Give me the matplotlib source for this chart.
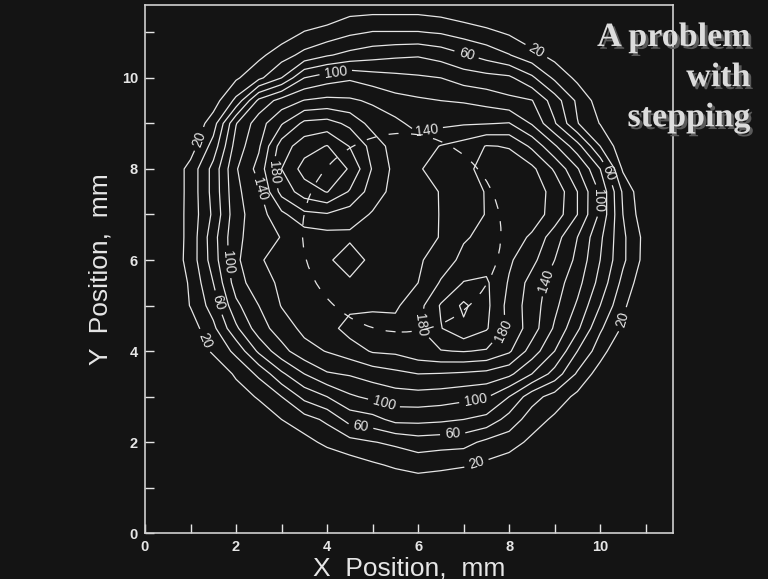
import numpy as np
import matplotlib
matplotlib.use("Agg")
import matplotlib.pyplot as plt
from matplotlib.patches import Circle
import matplotlib.patheffects as pe

plt.rcParams['font.family'] = ['Liberation Sans', 'DejaVu Sans']

# ---- data: dose map sampled every 0.5 mm (rows listed from y = 11.5 down to y = 0) ----
x_mm = np.arange(0, 12, 0.5)
y_mm = np.arange(0, 12, 0.5)
dose_rows_top_down = [
    [0,0,0,0,0,0,0,0,5,13,14,14,14,11,6,0,0,0,0,0,0,0,0,0],            # 11.5
    [0,0,0,0,0,0,8,21,27,36,41,41,41,38,31,25,17,4,0,0,0,0,0,0],        # 11.0
    [0,0,0,0,0,15,31,46,58,66,72,76,78,72,62,52,41,27,13,0,0,0,0,0],    # 10.5
    [0,0,0,0,17,35,60,100,111,117,110,106,103,100,91,87,84,64,36,15,0,0,0,0],   # 10.0
    [0,0,0,10,45,105,128,141,145,143,137,127,123,120,118,113,105,101,70,36,10,0,0,0],  # 9.5
    [0,0,3,30,99,131,158,185,188,175,152,145,133,135,138,139,141,118,82,41,19,0,0,0],  # 9.0
    [0,0,10,48,109,137,190,211,221,199,173,150,150,161,168,181,179,156,123,88,40,6,0,0],  # 8.5
    [0,2,27,67,118,147,200,228,235,218,178,154,158,168,176,185,188,185,157,122,80,17,0,0],  # 8.0
    [0,2,27,67,115,136,187,210,221,198,170,153,152,161,172,181,190,188,175,140,97,37,1,0],  # 7.5
    [0,3,27,64,113,131,155,175,178,170,158,150,150,161,170,181,190,190,172,140,96,40,5,0],  # 7.0
    [0,3,27,72,116,129,141,148,152,155,150,150,152,161,178,185,190,177,149,120,84,44,13,0],  # 6.5
    [0,3,28,70,116,138,147,150,155,175,152,150,157,170,185,192,183,166,140,115,80,44,12,0],  # 6.0
    [0,0,23,60,110,133,143,148,150,155,150,153,160,182,201,203,178,152,130,107,73,34,5,0],  # 5.5
    [0,0,21,49,95,120,141,146,150,155,157,157,172,202,224,205,173,150,125,97,60,24,0,0],  # 5.0
    [0,0,10,35,76,111,130,145,152,168,168,166,178,199,216,202,175,150,117,84,43,17,0,0],  # 4.5
    [0,0,0,24,45,84,113,133,141,150,162,164,173,179,181,178,163,131,100,60,29,0,0,0],  # 4.0
    [0,0,0,0,24,44,76,100,118,122,129,135,140,139,137,134,125,100,72,37,10,0,0,0],  # 3.5
    [0,0,0,0,7,23,40,66,80,97,105,111,112,110,106,102,80,48,32,15,0,0,0,0],  # 3.0
    [0,0,0,0,0,3,20,32,44,68,73,86,86,84,80,74,52,30,16,0,0,0,0,0],  # 2.5
    [0,0,0,0,0,0,0,13,25,33,39,44,50,48,47,35,29,15,0,0,0,0,0,0],  # 2.0
    [0,0,0,0,0,0,0,0,3,10,17,23,28,25,22,16,9,0,0,0,0,0,0,0],  # 1.5
    [0,0,0,0,0,0,0,0,0,0,0,4,6,5,2,0,0,0,0,0,0,0,0,0],  # 1.0
    [0]*24,  # 0.5
    [0]*24,  # 0.0
]
contour_levels = [20, 40, 60, 80, 100, 120, 140, 160, 180, 200, 220]
label_levels = [20, 60, 100, 140, 180]
label_spots = {
    20: [(8.58, 10.56), (1.30, 8.62), (1.33, 4.24), (7.30, 1.48), (10.56, 4.68)],
    60: [(7.08, 10.56), (1.63, 5.07), (4.73, 2.27), (6.76, 2.18), (10.16, 7.90)],
    100: [(4.18, 10.20), (1.76, 5.95), (5.24, 2.82), (7.26, 2.92), (10.00, 7.31)],
    140: [(6.20, 8.80), (2.47, 7.55), (8.54, 5.67)],
    180: [(2.80, 7.92), (6.10, 4.57), (7.81, 4.50)],
}
path_center = (5.64, 6.60)
path_radius = 2.18
title_lines = "A problem\nwith\nstepping"

dose = np.flipud(np.array(dose_rows_top_down, dtype=float))

# ---- figure ----
bg = '#141414'
fg = '#e6e6e6'
fig = plt.figure(figsize=(7.68, 5.79), dpi=100, facecolor=bg)
ax = fig.add_axes([0.1888, 0.0789, 0.6875, 0.9125], facecolor=bg)

plain_levels = [lv for lv in contour_levels if lv not in label_levels]
ax.contour(x_mm, y_mm, dose, levels=plain_levels, colors=fg,
           linewidths=0.9, linestyles='solid')
for lev in label_levels:
    cs_l = ax.contour(x_mm, y_mm, dose, levels=[lev], colors=fg,
                      linewidths=0.9, linestyles='solid')
    cs_l.clabel(manual=label_spots[lev], inline=True, inline_spacing=5,
                fmt='%d', fontsize=10, colors=fg)

ax.add_patch(Circle(path_center, path_radius, fill=False, ec=fg, lw=0.9,
                    ls=(0, (8, 10))))

ax.set_xlim(0, 11.6)
ax.set_ylim(0, 11.6)
ax.set_xticks(range(0, 11, 2))
ax.set_yticks(range(0, 11, 2))
ax.set_xticks(range(1, 12, 2), minor=True)
ax.set_yticks(range(1, 12, 2), minor=True)
ax.tick_params(which='both', direction='in', length=6.5, width=1.0,
               colors=fg, top=False, right=False, labelsize=10.5, pad=5)
for lab in ax.get_xticklabels() + ax.get_yticklabels():
    lab.set_fontweight('bold')
for s in ax.spines.values():
    s.set_color('#d0d0d0')
    s.set_linewidth(1.2)

ax.set_xlabel('X  Position,  mm', fontsize=19, color=fg)
ax.set_ylabel('Y  Position,  mm', fontsize=19, color=fg)
ax.xaxis.set_label_coords(0.5, -0.043)
ax.yaxis.set_label_coords(-0.062, 0.5)

fig.text(0.977, 0.962, title_lines, ha='right', va='top', fontsize=24.5,
         fontweight='bold', family='Liberation Serif', color='#dcdcdc',
         linespacing=1.38,
         path_effects=[pe.withSimplePatchShadow(offset=(2, -2),
                                                shadow_rgbFace='#5a5a5a', alpha=1.0)])

fig.savefig('out.png', dpi=100, facecolor=bg)
